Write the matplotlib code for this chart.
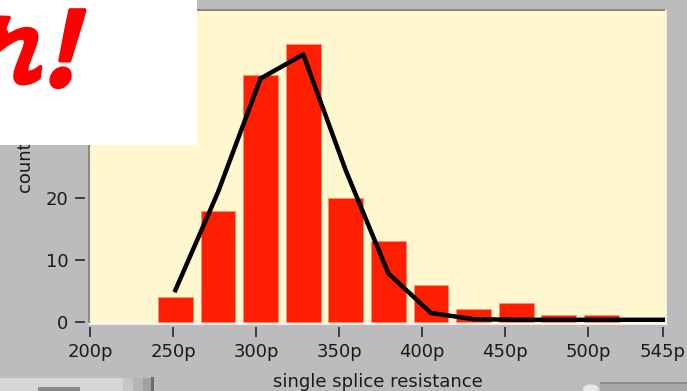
import matplotlib
matplotlib.use('Agg')
import matplotlib.pyplot as plt
from matplotlib.textpath import TextPath
from matplotlib.patches import PathPatch, Rectangle, Circle
from matplotlib.font_manager import FontProperties
from matplotlib.transforms import Affine2D

# histogram of single splice resistance
bin_centers = [251.4, 277.1, 302.7, 328.4, 354.0, 379.7, 405.3, 431.0, 456.6, 482.3, 507.9]
counts = [4, 18, 40, 45, 20, 13, 6, 2, 3, 1, 1]

# fitted curve
fit_x = [251.4, 277.1, 302.7, 328.4, 354.0, 379.7, 405.3, 431.0, 456.6, 482.3, 507.9, 545.0]
fit_y = [5.1, 21.0, 39.4, 43.3, 24.5, 7.8, 1.4, 0.4, 0.3, 0.3, 0.3, 0.3]

x_ticks = [200, 250, 300, 350, 400, 450, 500, 545]
x_tick_labels = ['200p', '250p', '300p', '350p', '400p', '450p', '500p', '545p']
y_ticks = [0, 10, 20, 30, 40, 50]

W, H = 687, 391
PANEL = '#bcbbbe'
CREAM = '#fff7d0'
BAR_RED = '#ff1e00'

fig = plt.figure(figsize=(W / 100, H / 100), dpi=100, facecolor=PANEL)


def px_rect(x, y, w, h, color, z=1):
    # rectangle given in screen pixels (origin top-left)
    r = Rectangle((x / W, 1 - (y + h) / H), w / W, h / H, transform=fig.transFigure,
                  facecolor=color, edgecolor='none', zorder=z)
    fig.patches.append(r)


ax = fig.add_axes([89 / W, 1 - 323.5 / H, 577 / W, 313.5 / H], facecolor=CREAM)
ax.bar(bin_centers, counts, width=21, color=BAR_RED, edgecolor='#ff9070', linewidth=0.5, zorder=2)
ax.plot(fit_x, fit_y, color='black', linewidth=3.2, solid_joinstyle='round', zorder=3)

ax.set_xlim(199.4, 546.8)
ax.set_ylim(-0.3, 50.5)
ax.set_xticks(x_ticks)
ax.set_xticklabels(x_tick_labels)
ax.set_yticks(y_ticks)

for side in ['top', 'right', 'left', 'bottom']:
    ax.spines[side].set_visible(False)
ax.spines['left'].set_position(('outward', 3))
ax.spines['bottom'].set_position(('outward', 2.3))
ax.tick_params(direction='out', length=7.2, width=1.1, color='#1a1a1a',
               labelsize=13, labelcolor='#1a1a1a')
ax.tick_params(axis='x', pad=4.5)
ax.tick_params(axis='y', pad=4.8)

# inset frame: dark top/left, light bottom/right
ax.plot([0, 1], [1, 1], transform=ax.transAxes, color='#8c8b78', lw=1.5, clip_on=False, zorder=5)
ax.plot([0, 0], [0, 1], transform=ax.transAxes, color='#8c8b78', lw=1.5, clip_on=False, zorder=5)
ax.plot([1, 1], [0, 1], transform=ax.transAxes, color='#fbfaf2', lw=1.2, clip_on=False, zorder=5)
ax.plot([0, 1], [0, 0], transform=ax.transAxes, color='#fbfaf2', lw=1.2, clip_on=False, zorder=5)

ax.set_xlabel('single splice resistance', fontsize=13, color='#1a1a1a', labelpad=8.5)
ax.set_ylabel('count', fontsize=13, color='#1a1a1a', labelpad=8)

# white sticker on top left with red caption (only its tail is on screen)
wb = fig.add_axes([0, 1 - 145 / H, 197 / W, 145 / H], facecolor='white', zorder=10)
wb.set_xlim(0, 197)
wb.set_ylim(0, 145)
wb.set_xticks([])
wb.set_yticks([])
for s in wb.spines.values():
    s.set_visible(False)
cap_font = FontProperties(family='Noto Sans CJK JP', weight='bold')
for s, size, x0, y0 in [('れ', 80, -40, 63), ('!', 100, 40, 59)]:
    tp = TextPath((0, 0), s, size=size, prop=cap_font)
    trans = Affine2D().skew_deg(14, 0).translate(x0, y0)
    wb.add_patch(PathPatch(tp, facecolor='#ff0000', edgecolor='#ff0000', lw=2.5, joinstyle='round',
                           transform=trans + wb.transData, clip_on=True))

# bits of the front panel controls at the bottom edge
px_rect(0, 378, 153, 13, '#d6d6d6')
px_rect(38, 386.5, 42, 5, '#8a8a8a', 2)
px_rect(123, 378, 10, 13, '#c6c6c6', 2)
px_rect(133, 378, 10, 13, '#b4b4b4', 2)
px_rect(143, 378, 8, 13, '#a0a0a0', 2)
px_rect(151, 377, 2.5, 14, '#6a6a6a', 2)
fig.patches.append(Circle((591 / W, 1 - 389 / H), 8 / W, transform=fig.transFigure,
                          facecolor='#e6e6e6', edgecolor='none', zorder=1))
px_rect(600, 382, 87, 9, '#a8a8a8')
px_rect(600, 382, 87, 1.5, '#8c8c8c', 2)

fig.savefig('out.png', dpi=100, facecolor=PANEL)
